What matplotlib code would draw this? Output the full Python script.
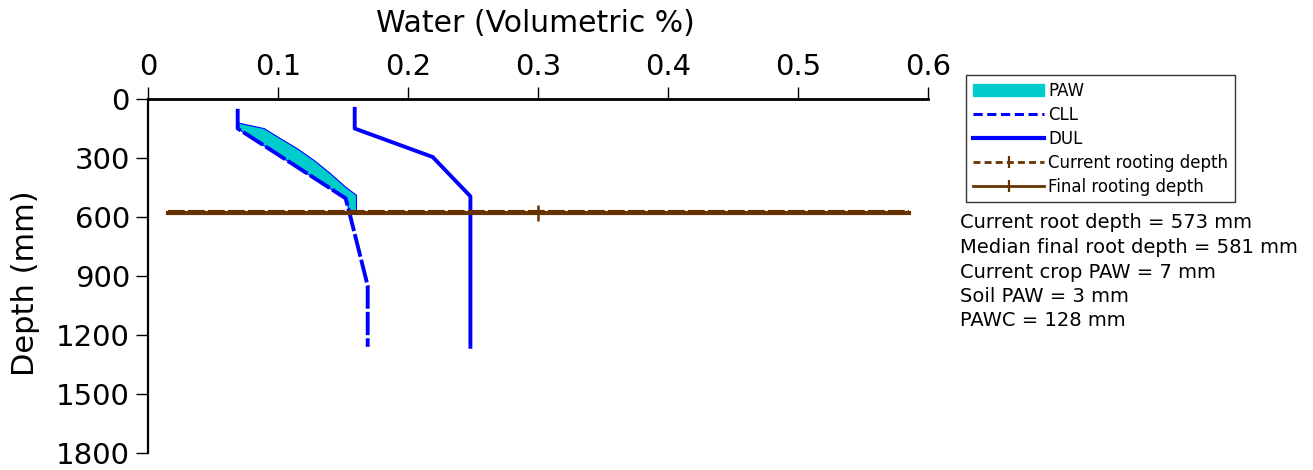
import matplotlib
matplotlib.use("Agg")
import matplotlib.pyplot as plt
from matplotlib.lines import Line2D
from matplotlib.patches import Patch
import numpy as np

# profile vertices (depth in mm, water as fraction)
dul_depth = [50, 150, 295, 495, 1260]
dul = [0.159, 0.159, 0.219, 0.248, 0.248]

cll_depth = [50, 150, 505, 580, 950, 1260]
cll = [0.069, 0.069, 0.152, 0.155, 0.169, 0.169]

sw_depth = [50, 148, 199, 250, 309, 377, 445, 487, 573]
sw = [0.020, 0.089, 0.1015, 0.1144, 0.1272, 0.140, 0.1515, 0.160, 0.160]

current_root = 573
final_root = 581
root_x = [0.015, 0.30, 0.585]

xticks = [0, 0.1, 0.2, 0.3, 0.4, 0.5, 0.6]
xticklabels = ["0", "0.1", "0.2", "0.3", "0.4", "0.5", "0.6"]
yticks = [0, 300, 600, 900, 1200, 1500, 1800]

info_lines = [
    "Current root depth = 573 mm",
    "Median final root depth = 581 mm",
    "Current crop PAW = 7 mm",
    "Soil PAW = 3 mm",
    "PAWC = 128 mm",
]

blue = "#0000ff"
cyan = "#00cccc"
brown = "#663300"

plt.rcParams["font.family"] = "DejaVu Sans"

fig = plt.figure(figsize=(13.13, 4.70), dpi=100)
ax = fig.add_axes([148 / 1313, 1 - 453 / 470, 780 / 1313, 354 / 470])

# PAW fill between lower limit and current water, down to the root depth
grid = np.unique(np.concatenate([sw_depth, [d for d in cll_depth if d <= current_root]]))
sw_g = np.interp(grid, sw_depth, sw)
cll_g = np.interp(grid, cll_depth, cll)
ax.fill_betweenx(grid, cll_g, sw_g, where=sw_g > cll_g, interpolate=True,
                 facecolor=cyan, edgecolor=blue, linewidth=0.8, zorder=2)

ax.plot(cll, cll_depth, color=blue, lw=2.8, ls=(0, (6, 0.8)), zorder=3)
ax.plot(dul, dul_depth, color=blue, lw=2.8, zorder=3)

ax.plot(root_x, [final_root] * 3, color=brown, lw=3, marker="+",
        markevery=[1], ms=11, mew=1.8, zorder=4)
ax.plot(root_x, [current_root] * 3, color=brown, lw=3, ls=(0, (4, 0.8)),
        zorder=5)

ax.set_xlim(0, 0.6)
ax.set_ylim(1800, 0)
ax.xaxis.tick_top()
ax.xaxis.set_label_position("top")
ax.set_xticks(xticks)
ax.set_xticklabels(xticklabels)
ax.set_yticks(yticks)
ax.tick_params(labelsize=21, length=9, width=1, pad=4)
ax.set_xlabel("Water (Volumetric %)", fontsize=21.5)
ax.set_ylabel("Depth (mm)", fontsize=22)
ax.xaxis.set_label_coords(0.496, 1.19)
ax.yaxis.set_label_coords(-0.138, 0.48)

for s in ["right", "bottom"]:
    ax.spines[s].set_visible(False)
ax.spines["top"].set_linewidth(2)
ax.spines["left"].set_linewidth(1.6)

handles = [
    Patch(facecolor=cyan, edgecolor=cyan),
    Line2D([], [], color=blue, lw=2.2, ls=(0, (3, 1.5))),
    Line2D([], [], color=blue, lw=3),
    Line2D([], [], color=brown, lw=2, ls=(0, (2.5, 1.5)), marker="|", ms=8, mew=1.6),
    Line2D([], [], color=brown, lw=2, marker="|", ms=9, mew=1.6),
]
labels = ["PAW", "CLL", "DUL", "Current rooting depth", "Final rooting depth"]
leg = fig.legend(handles, labels, loc="upper left",
                 bbox_to_anchor=(966 / 1313, 1 - 75 / 470),
                 fontsize=12, frameon=True, fancybox=False, shadow=False,
                 handlelength=4.3, handletextpad=0.25, labelspacing=0.36,
                 borderpad=0.4, borderaxespad=0)
leg.get_frame().set_edgecolor("black")
leg.get_frame().set_linewidth(1)

baselines = [228.3, 253.0, 277.7, 302.0, 326.3]
for txt, yb in zip(info_lines, baselines):
    fig.text(960 / 1313, 1 - yb / 470, txt, fontsize=14, va="baseline", ha="left")

fig.savefig("out.png", dpi=100)
